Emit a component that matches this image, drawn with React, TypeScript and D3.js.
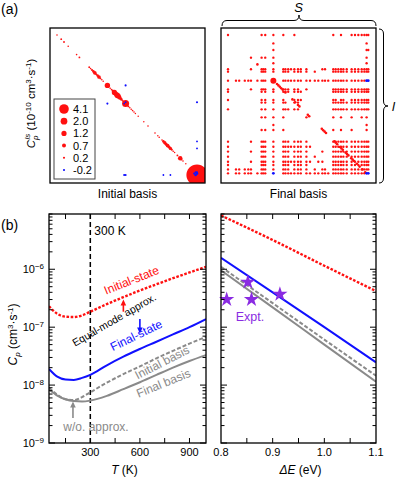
import * as d3 from 'd3';

const W = 398;
const H = 479;
const FONT = '"Liberation Sans", Arial, Helvetica, sans-serif';

// ---------------- (a) data ----------------
const legendValues = [4.1, 2.0, 1.2, 0.7, 0.2, -0.2];

// initial basis, diagonal elements [mode, value]
const initialDiag: [number, number][] = [
  [0, 0.12], [3, 0.15], [5, 0.15], [8, 0.12], [14, 0.12], [16, 0.15],
  [23, 0.15], [24, 0.12], [25, 0.2], [26, 0.3], [27, 0.6], [28, 0.2], [29, 0.3], [30, 0.6], [31, 0.15], [32, 0.12], [33, 0.1],
  [36, 1.3], [37, 0.12], [38, 0.12], [39, 0.15], [40, 0.3], [41, 1.2], [42, 1.0], [43, 1.4], [44, 1.1], [45, 0.6], [46, 0.3], [47, 0.15],
  [49, 2.2], [50, 0.15], [51, 0.15], [52, 0.12], [53, 0.12], [54, 0.12], [55, 0.12], [56, 0.1],
  [58, 0.1], [62, 0.1], [65, 0.12], [70, 0.12], [72, 0.1], [73, 0.12],
  [75, 0.12], [76, 0.3], [77, 0.5], [78, 0.4], [79, 0.6], [80, 0.4], [81, 0.5], [82, 0.2], [83, 0.12], [84, 0.1],
  [86, 0.15], [88, 0.9], [89, 0.15], [90, 0.12], [92, 0.1], [100, 20],
];
// initial basis, off-diagonal elements [row, col, value]
const initialOff: [number, number, number][] = [
  [36, 49, -0.2], [49, 36, -0.2], [48, 49, -0.15], [49, 48, -0.15],
  [48, 100, -0.2], [100, 48, -0.2], [100, 49, -0.2],
  [76, 100, -0.15], [81, 100, -0.15], [100, 76, -0.15], [100, 81, -0.15],
  [98, 99, -0.2], [99, 98, -0.2], [99, 100, -0.3], [100, 99, -0.3], [98, 100, -0.2],
];

// final basis: modes on the columns / rows that carry elements
const finalCols = [0, 5.7, 8, 12, 14.5, 16.4, 21, 24, 25.2, 26.6, 32.4, 39.5, 41, 43, 45, 47.4, 50, 52, 56, 58.6, 62, 64.5,
  67.4, 69.3, 71.6, 75.2, 76.9, 78.8, 80.7, 82.4, 84.8, 88.3, 90.7, 93.1, 95.5, 97.4, 99, 100.2];
const finalRows = [0, 6, 10.7, 16.2, 20.2, 24.5, 26.2, 32.6, 38.8, 40.5, 46.4, 48.3, 53.1, 58.8, 64.3, 67.9,
  76.2, 79.8, 83.3, 86.9, 90.5, 92.9, 96, 98.8];
const blockCols = [25, 26, 27, 28, 29, 30, 31, 32, 33, 34, 35, 36, 37];
const allCols = d3.range(38);
// for every row of finalRows, the finalCols positions holding an element
const finalRowCols: number[][] = [
  [0, 7, 9, 10, 11, 15, 25, 28, 31, 32, 33, 34, 35, 36, 37],
  [10, 36],
  [10, 36, 37],
  [5, 7, 9, 10, 36],
  [10, 36],
  [0, 5, 7, 8, 9, 10, 11, 12, 13, 14, 15, 16, 17, 18, 22, 23, ...blockCols],
  [0, 7, 8, 9, 10, 11, 12, 13, 15, 16, 17, 18, 20, ...blockCols],
  allCols,
  [0, 5, 7, 8, 9, 10, 11, 12, 13, 15, 16, 18, ...blockCols],
  [0, 7, 9, 10, 11, 12, 13, 15, 16, 17, ...blockCols],
  [0, 7, 9, 10, 11, 15, 16, 17, 25, 26, 28, 29, 31, 32, 33, 34, 35, 36, 37],
  [7, 9, 10, 11, 12, 15, 16, ...blockCols],
  [0, 7, 9, 10, 11, 12, 13, 15, 16, ...blockCols],
  [7, 9, 10, 11, 18, 25, 28, 31, 34, 36],
  [10, 36],
  [7, 9, 10, 11, 25, 28, 31, 36],
  [0, 5, 7, 8, 9, 10, 11, 12, 13, 15, 16, 17, 18, ...blockCols],
  [0, 7, 8, 9, 10, 11, 12, 13, 14, 15, 16, 17, 18, 19, ...blockCols],
  [0, 5, 7, 8, 9, 10, 11, 12, 13, 15, 16, 17, 18, 22, ...blockCols],
  [0, 7, 8, 9, 10, 11, 12, 13, 15, 16, 17, 18, 20, ...blockCols],
  [0, 5, 7, 8, 9, 10, 11, 12, 13, 14, 15, 16, 17, 18, 19, 21, 22, ...blockCols],
  [0, 7, 8, 9, 10, 11, 12, 13, 15, 16, 17, 18, ...blockCols],
  [0, 1, 2, 3, 4, 5, 7, 8, 9, 10, 11, 12, 13, 15, 16, 17, 18, 20, 22, 23, ...blockCols],
  allCols,
];
// [row position, col position, value] overrides for larger / negative cells
const finalSpecial: [number, number, number][] = [
  [7, 10, 1.6], [7, 36, -0.3], [7, 37, -0.3], [23, 10, -0.3], [23, 36, -0.3], [23, 37, -0.3],
];
const finalDiag = [21, 35, 36, 37, 38, 39, 41, 46, 48, 50, 51, 57, 58, 67, 68, 69, 70,
  76, 77, 78, 80, 81, 82, 84, 85, 86, 88, 89, 90, 92, 94, 96, 98];

// ---------------- (b) data ----------------
const temps = [50, 100, 150, 200, 250, 300, 400, 500, 600, 700, 800, 900, 1000];
const cpInitialState = [2.3e-7, 1.7e-7, 1.52e-7, 1.5e-7, 1.6e-7, 1.85e-7, 2.5e-7, 3.3e-7, 4.3e-7, 5.5e-7, 7.0e-7, 8.8e-7, 1.1e-6];
const cpFinalState = [1.9e-8, 1.4e-8, 1.25e-8, 1.23e-8, 1.33e-8, 1.5e-8, 2.2e-8, 3.1e-8, 4.2e-8, 5.6e-8, 7.5e-8, 1.0e-7, 1.38e-7];
const cpInitialBasis = [9e-9, 6.8e-9, 5.7e-9, 5.5e-9, 6.2e-9, 7.5e-9, 1.1e-8, 1.55e-8, 2.1e-8, 2.9e-8, 3.9e-8, 5.2e-8, 6.8e-8];
const cpFinalBasis = [8.5e-9, 6.6e-9, 5.7e-9, 5.3e-9, 5.2e-9, 5.4e-9, 6.5e-9, 8.5e-9, 1.12e-8, 1.5e-8, 2.0e-8, 2.6e-8, 3.3e-8];

const gaps = [0.8, 0.9, 1.0, 1.1];
const gapInitialState = [8.5e-6, 3.2e-6, 1.15e-6, 4.2e-7];
const gapFinalState = [1.57e-6, 4.0e-7, 1.0e-7, 2.47e-8];
const gapInitialBasis = [1.1e-6, 2.6e-7, 6.1e-8, 1.45e-8];
const gapFinalBasis = [9.6e-7, 2.2e-7, 5.0e-8, 1.14e-8];

const exptGap = [0.811, 0.852, 0.859, 0.914];
const exptCp = [3.0e-7, 6.0e-7, 3.0e-7, 3.7e-7];

const tTicks = [150, 300, 450, 600, 750, 900];
const tLabels = [300, 600, 900];
const eTicks = [0.85, 0.9, 0.95, 1.0, 1.05];
const eLabels = [0.8, 0.9, 1.0, 1.1];
const yLabels = [-9, -8, -7, -6];

const RED = '#ff1010';
const BLUE = '#1010ff';
const GRAY = '#8a8a8a';
const PURPLE = '#8a2be2';

// geometry
const boxA = 155;
const aTop = 28;
const aLeft1 = 50;
const aLeft2 = 221;
const bTop = 214;
const bBottom = 443;
const bL = [49, 206];
const bR = [221, 376];

const mode = d3.scaleLinear().domain([0, 100]).range([7, 147]);
const rScale = d3.scaleSqrt().domain([0, 4.1]).range([0, 4.8]);

const xT = d3.scaleLinear().domain([50, 1000]).range(bL);
const xE = d3.scaleLinear().domain([0.8, 1.1]).range(bR);
const yC = d3.scaleLog().domain([1e-9, 9e-6]).range([bBottom, bTop]);

function Sup({ base, exp, ...rest }: any) {
  return (
    <text {...rest}>
      {base}
      <tspan dy={-4} fontSize={8}>{exp}</tspan>
    </text>
  );
}

function Arrow({ x, y1, y2, color }: { x: number; y1: number; y2: number; color: string }) {
  const dir = y2 < y1 ? 1 : -1;
  return (
    <g>
      <line x1={x} x2={x} y1={y1} y2={y2 + dir * 5} stroke={color} strokeWidth={1.6} />
      <path d={`M${x - 2.8},${y2 + dir * 6}L${x},${y2}L${x + 2.8},${y2 + dir * 6}Z`} fill={color} />
    </g>
  );
}

function LogFrame({ x0, x1, labels }: { x0: number; x1: number; labels: boolean }) {
  const ticks = yC.ticks().filter((t) => yC(t) >= bTop - 0.5);
  return (
    <g>
      {ticks.map((t, i) => {
        const major = Math.abs(Math.log10(t) - Math.round(Math.log10(t))) < 1e-6;
        const len = major ? 6 : 3.5;
        const y = yC(t);
        return (
          <g key={i}>
            <line x1={x0} x2={x0 + len} y1={y} y2={y} stroke="#000" strokeWidth={1} />
            <line x1={x1} x2={x1 - len} y1={y} y2={y} stroke="#000" strokeWidth={1} />
          </g>
        );
      })}
      {labels &&
        yLabels.map((e) => (
          <Sup key={e} base="10" exp={`\u2212${-e}`} x={44} y={yC(Math.pow(10, e)) + 4} textAnchor="end" fontSize={11} />
        ))}
      <rect x={x0} y={bTop} width={x1 - x0} height={bBottom - bTop} fill="none" stroke="#000" strokeWidth={1.3} />
    </g>
  );
}

function hBrace(x1: number, x2: number, y: number, d: number) {
  const m = (x1 + x2) / 2;
  const q = 5;
  const h = y - d / 2;
  return `M${x1},${y}Q${x1},${h} ${x1 + q},${h}L${m - q},${h}Q${m},${h} ${m},${y - d}Q${m},${h} ${m + q},${h}L${x2 - q},${h}Q${x2},${h} ${x2},${y}`;
}
function vBrace(y1: number, y2: number, x: number, d: number) {
  const m = (y1 + y2) / 2;
  const q = 5;
  const h = x + d / 2;
  return `M${x},${y1}Q${h},${y1} ${h},${y1 + q}L${h},${m - q}Q${h},${m} ${x + d},${m}Q${h},${m} ${h},${m + q}L${h},${y2 - q}Q${h},${y2} ${x},${y2}`;
}

export default function App() {
  const lineT = (vals: number[]) =>
    d3.line<number>().x((_, i) => xT(temps[i])).y((v) => yC(v)).curve(d3.curveMonotoneX)(vals) || '';
  const lineE = (vals: number[]) =>
    d3.line<number>().x((_, i) => xE(gaps[i])).y((v) => yC(v)).curve(d3.curveMonotoneX)(vals) || '';
  const star = d3.symbol(d3.symbolStar, 72)() || '';

  // final-basis cells
  const finalCells: { r: number; c: number; v: number }[] = [];
  finalRowCols.forEach((cols, ri) => {
    cols.forEach((ci) => {
      const sp = finalSpecial.find((s) => s[0] === ri && s[1] === ci);
      finalCells.push({ r: finalRows[ri], c: finalCols[ci], v: sp ? sp[2] : 0.25 });
    });
  });
  finalDiag.forEach((m) => finalCells.push({ r: m, c: m, v: 0.3 }));
  finalCells.sort((a, b) => (a.v < 0 ? 1 : 0) - (b.v < 0 ? 1 : 0));

  return (
    <svg width={W} height={H} style={{ position: 'absolute', left: 0, top: 0, background: '#fff' }} fontFamily={FONT}>
      <defs>
        <clipPath id="clipA1"><rect x={0} y={0} width={boxA} height={boxA} /></clipPath>
        <clipPath id="clipBL"><rect x={bL[0]} y={bTop} width={bL[1] - bL[0]} height={bBottom - bTop} /></clipPath>
        <clipPath id="clipBR"><rect x={bR[0]} y={bTop} width={bR[1] - bR[0]} height={bBottom - bTop} /></clipPath>
      </defs>

      {/* ---------------- (a) ---------------- */}
      <text x={1} y={14} fontSize={14}>(a)</text>

      <g transform={`translate(${aLeft1},${aTop})`}>
        <g clipPath="url(#clipA1)">
          {initialDiag.map(([m, v], i) => (
            <circle key={'d' + i} cx={mode(m)} cy={mode(m)} r={rScale(v)} fill={RED} />
          ))}
          {initialOff.map(([r, c, v], i) => (
            <circle key={'o' + i} cx={mode(c)} cy={mode(r)} r={rScale(-v)} fill={BLUE} />
          ))}
        </g>
        <rect x={0} y={0} width={boxA} height={boxA} fill="none" stroke="#000" strokeWidth={1.3} />
        {/* legend */}
        <rect x={4} y={71} width={41} height={80} fill="#fff" stroke="#444" strokeWidth={1} />
        {legendValues.map((v, i) => (
          <g key={v} transform={`translate(0,${81 + i * 12.2})`}>
            <circle cx={14} cy={0} r={rScale(Math.abs(v))} fill={v < 0 ? BLUE : RED} />
            <text x={23} y={4} fontSize={11}>{v < 0 ? '-' + Math.abs(v).toFixed(1) : v.toFixed(1)}</text>
          </g>
        ))}
      </g>
      <text transform={`translate(35,${aTop + boxA / 2 - 2}) rotate(-90)`} textAnchor="middle" fontSize={11.5}>
        <tspan fontStyle="italic">C</tspan>
        <tspan fontSize={8} dy={3} fontStyle="italic">p</tspan>
        <tspan fontSize={8} dy={-8} dx={-4} fontStyle="italic">ls</tspan>
        <tspan dy={5}> (10</tspan>
        <tspan fontSize={8} dy={-4}>-10</tspan>
        <tspan dy={4}> cm</tspan>
        <tspan fontSize={8} dy={-4}>3</tspan>
        <tspan dy={4}>·s</tspan>
        <tspan fontSize={8} dy={-4}>-1</tspan>
        <tspan dy={4}>)</tspan>
      </text>
      <text x={aLeft1 + boxA / 2} y={198} textAnchor="middle" fontSize={12}>Initial basis</text>

      <g transform={`translate(${aLeft2},${aTop})`}>
        {finalCells.map((d, i) => (
          <circle key={i} cx={mode(d.c)} cy={mode(d.r)} r={d.v < 0 ? 1.4 : rScale(d.v)} fill={d.v < 0 ? BLUE : RED} />
        ))}
        <rect x={0} y={0} width={boxA} height={boxA} fill="none" stroke="#000" strokeWidth={1.3} />
      </g>
      <text x={aLeft2 + boxA / 2} y={198} textAnchor="middle" fontSize={12}>Final basis</text>
      <path d={hBrace(aLeft2 + 1, aLeft2 + boxA, 26, 11)} fill="none" stroke="#000" strokeWidth={1} />
      <text x={aLeft2 + boxA / 2} y={12} textAnchor="middle" fontSize={13} fontStyle="italic">S</text>
      <path d={vBrace(aTop + 1, aTop + boxA, 379, 9)} fill="none" stroke="#000" strokeWidth={1} />
      <text x={392} y={aTop + boxA / 2 + 5} fontSize={13} fontStyle="italic">l</text>

      {/* ---------------- (b) ---------------- */}
      <text x={1} y={230} fontSize={14}>(b)</text>

      {/* left: vs temperature */}
      <g clipPath="url(#clipBL)">
        <line x1={xT(300)} x2={xT(300)} y1={bTop} y2={bBottom} stroke="#000" strokeWidth={1.5} strokeDasharray="5 3" />
        <path d={lineT(cpFinalBasis)} fill="none" stroke={GRAY} strokeWidth={2} />
        <path d={lineT(cpInitialBasis)} fill="none" stroke={GRAY} strokeWidth={2} strokeDasharray="4 2" />
        <path d={lineT(cpFinalState)} fill="none" stroke={BLUE} strokeWidth={2} />
        <path d={lineT(cpInitialState)} fill="none" stroke={RED} strokeWidth={2.4} strokeDasharray="2.6 1.6" />
      </g>
      {tTicks.map((t) => (
        <g key={t}>
          <line x1={xT(t)} x2={xT(t)} y1={bBottom} y2={bBottom - 5} stroke="#000" />
          <line x1={xT(t)} x2={xT(t)} y1={bTop} y2={bTop + 5} stroke="#000" />
        </g>
      ))}
      {tLabels.map((t) => (
        <text key={t} x={xT(t)} y={456} textAnchor="middle" fontSize={11}>{t}</text>
      ))}
      <LogFrame x0={bL[0]} x1={bL[1]} labels={true} />
      <text x={(bL[0] + bL[1]) / 2 - 3} y={474} textAnchor="middle" fontSize={12}>
        <tspan fontStyle="italic">T</tspan> (K)
      </text>
      <text transform={`translate(17,${(bTop + bBottom) / 2 + 6}) rotate(-90)`} textAnchor="middle" fontSize={12}>
        <tspan fontStyle="italic">C</tspan>
        <tspan fontSize={8} dy={3} fontStyle="italic">p</tspan>
        <tspan dy={-3}> (cm</tspan>
        <tspan fontSize={8} dy={-4}>3</tspan>
        <tspan dy={4}>·s</tspan>
        <tspan fontSize={8} dy={-4}>-1</tspan>
        <tspan dy={4}>)</tspan>
      </text>
      <text x={xT(300) + 4} y={235} fontSize={12}>300 K</text>

      <text transform={`translate(133,284) rotate(-22)`} textAnchor="middle" fontSize={12} fill={RED}>Initial-state</text>
      <Arrow x={xT(500)} y1={yC(1.85e-7)} y2={yC(3.0e-7)} color={RED} />
      <text transform={`translate(116,323) rotate(-30)`} textAnchor="middle" fontSize={10.5} fill="#000">Equal-mode approx.</text>
      <Arrow x={xT(600)} y1={yC(1.38e-7)} y2={yC(7.8e-8)} color={BLUE} />
      <text transform={`translate(138,339) rotate(-26)`} textAnchor="middle" fontSize={12} fill={BLUE}>Final-state</text>
      <text transform={`translate(164,366) rotate(-27)`} textAnchor="middle" fontSize={12} fill={GRAY}>Initial basis</text>
      <text transform={`translate(165,387) rotate(-22)`} textAnchor="middle" fontSize={12} fill={GRAY}>Final basis</text>
      <Arrow x={xT(195)} y1={yC(2.7e-9)} y2={yC(5.2e-9)} color={GRAY} />
      <text x={96} y={431} textAnchor="middle" fontSize={12} fill={GRAY}>w/o. approx.</text>

      {/* right: vs energy gap */}
      <g clipPath="url(#clipBR)">
        <path d={lineE(gapFinalBasis)} fill="none" stroke={GRAY} strokeWidth={2} />
        <path d={lineE(gapInitialBasis)} fill="none" stroke={GRAY} strokeWidth={2} strokeDasharray="4 2" />
        <path d={lineE(gapFinalState)} fill="none" stroke={BLUE} strokeWidth={2} />
        <path d={lineE(gapInitialState)} fill="none" stroke={RED} strokeWidth={2.4} strokeDasharray="2.6 1.6" />
      </g>
      {exptGap.map((g, i) => (
        <path key={i} d={star} transform={`translate(${xE(g)},${yC(exptCp[i])})`} fill={PURPLE} />
      ))}
      <text x={250} y={321} textAnchor="middle" fontSize={12.5} fill={PURPLE}>Expt.</text>
      {eTicks.map((t) => (
        <g key={t}>
          <line x1={xE(t)} x2={xE(t)} y1={bBottom} y2={bBottom - 5} stroke="#000" />
          <line x1={xE(t)} x2={xE(t)} y1={bTop} y2={bTop + 5} stroke="#000" />
        </g>
      ))}
      {eLabels.map((t) => (
        <text key={t} x={xE(t)} y={456} textAnchor="middle" fontSize={11}>{t.toFixed(1)}</text>
      ))}
      <LogFrame x0={bR[0]} x1={bR[1]} labels={false} />
      <text x={(bR[0] + bR[1]) / 2 + 2} y={474} textAnchor="middle" fontSize={12}>
        <tspan fontStyle="italic">ΔE</tspan> (eV)
      </text>
    </svg>
  );
}
